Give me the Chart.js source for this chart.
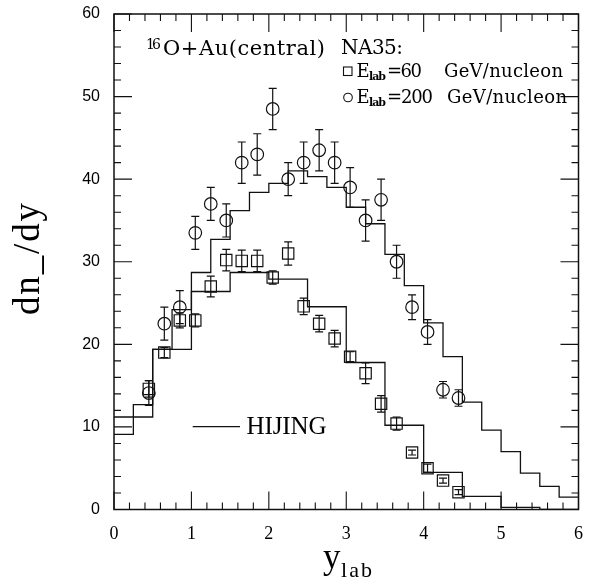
<!DOCTYPE html>
<html><head><meta charset="utf-8">
<script src="https://cdn.jsdelivr.net/npm/chart.js@4"></script>
<style>html,body{margin:0;padding:0;background:#fff;}canvas{display:block;}</style>
</head><body>
<canvas id="c" width="589" height="585"></canvas>
<script>
// ---- data ----
const rapidity = [0.45,0.65,0.85,1.05,1.25,1.45,1.65,1.85,2.05,2.25,2.45,2.65,2.85,3.05,3.25,3.45,3.65,3.85,4.05,4.25,4.45];
const na35_200 = [14.1,22.5,24.5,33.5,37.0,35.0,42.0,43.0,48.5,40.0,42.0,43.5,42.0,39.0,35.0,37.5,30.0,24.5,21.5,14.5,13.5];
const na35_200_err = [1.5,2,2,2,2,2,2.5,2.5,2.5,2,2.5,2.5,2.5,2.4,2.5,2.5,2,1.5,1.5,1,1];
const na35_60 = [14.6,19.0,22.9,22.9,27.0,30.2,30.1,30.1,28.1,31.0,24.6,22.5,20.7,18.5,16.5,12.8,10.4,6.9,5.0,3.5,2.1];
const na35_60_err = [1,0.6,0.9,0.8,1.25,1.3,1.3,1.3,0.8,1.4,1,1,1,0.6,1.25,1,0.8,0.3,0.5,0.3,0.3];

const hijingEdges200 = [0,0.25,0.5,0.75,1,1.25,1.5,1.75,2,2.25,2.5,2.75,3,3.25,3.5,3.75,4,4.25,4.5,4.75,5,5.25,5.5,5.75,6];
const hijing200 = [9.1,12.7,19.4,24.2,28.7,32.7,36.2,38.4,39.5,41.0,40.3,39.0,36.6,34.6,30.9,27.1,22.6,18.5,13.0,9.6,7.0,4.4,2.8,1.5];
const hijingEdges60 = [0,0.5,1,1.5,2,2.5,3,3.5,4,4.5,5,5.5,6];
const hijing60 = [11.2,19.4,26.4,28.7,27.9,24.55,17.8,10.2,4.5,1.6,0.25,0];

const xTickLabels = ['0','1','2','3','4','5','6'];
const yTickLabels = ['0','10','20','30','40','50','60'];

// ---- helpers to build library data ----
function histPoints(edges, vals){
  const pts = vals.map((v,i)=>({x:edges[i], y:v}));
  pts.push({x:edges[edges.length-1], y:vals[vals.length-1]});
  return pts;
}
function scatterPoints(xs, ys){ return xs.map((x,i)=>({x:x, y:ys[i]})); }

const INK = '#111';

function fitText(ctx, text, x, y, font, target){
  ctx.font = font;
  ctx.letterSpacing = '0px';
  const w = ctx.measureText(text).width;
  if (target && text.length > 1){
    ctx.letterSpacing = ((target - w)/(text.length-1)) + 'px';
  }
  ctx.fillText(text, x, y);
  ctx.letterSpacing = '0px';
}

const decor = {
  id:'decor',
  afterDatasetsDraw(chart){
    const {ctx, scales:{x, y}} = chart;
    chart.data.datasets.forEach(ds=>{
      if(!ds.errors) return;
      ctx.save();
      ctx.strokeStyle = INK; ctx.lineWidth = 1.2;
      ds.data.forEach((p,j)=>{
        const e = ds.errors[j];
        const px = x.getPixelForValue(p.x);
        const y1 = y.getPixelForValue(p.y - e), y2 = y.getPixelForValue(p.y + e);
        ctx.beginPath();
        ctx.moveTo(px, y1); ctx.lineTo(px, y2);
        ctx.moveTo(px-4, y1); ctx.lineTo(px+4, y1);
        ctx.moveTo(px-4, y2); ctx.lineTo(px+4, y2);
        ctx.stroke();
      });
      ctx.restore();
    });
  },
  afterDraw(chart){
    const {ctx, chartArea:a, scales:{x, y}} = chart;
    ctx.save();
    ctx.strokeStyle = INK; ctx.fillStyle = '#000';
    // frame
    ctx.lineWidth = 1.5;
    ctx.strokeRect(a.left, a.top, a.right-a.left, a.bottom-a.top);
    // ticks, inward on all four sides
    ctx.lineWidth = 1.1;
    ctx.beginPath();
    for (let i=0;i<=30;i++){
      const v = i*0.2; const px = x.getPixelForValue(v);
      const L = (i%5===0) ? 18 : 7;
      ctx.moveTo(px, a.bottom); ctx.lineTo(px, a.bottom-L);
      ctx.moveTo(px, a.top); ctx.lineTo(px, a.top+L);
    }
    for (let i=0;i<=30;i++){
      const v = i*2; const py = y.getPixelForValue(v);
      const L = (i%5===0) ? 18 : 7;
      ctx.moveTo(a.left, py); ctx.lineTo(a.left+L, py);
      ctx.moveTo(a.right, py); ctx.lineTo(a.right-L, py);
    }
    ctx.stroke();

    // annotation texts
    ctx.textAlign = 'left'; ctx.textBaseline = 'alphabetic';
    fitText(ctx, '16', 146, 48.5, '14px "DejaVu Serif"', 15);
    fitText(ctx, 'O+Au(central)', 163, 55, '21px "DejaVu Serif"', 162);
    fitText(ctx, 'NA35:', 341, 53.5, '20px "DejaVu Serif"', 62);

    // legend symbols
    ctx.lineWidth = 1.1;
    ctx.strokeRect(343.5, 67, 8.5, 8.5);
    ctx.beginPath(); ctx.arc(348, 97.5, 4.3, 0, Math.PI*2); ctx.stroke();

    // legend line 1
    fitText(ctx, 'E', 356.5, 77, '18px "DejaVu Serif"');
    fitText(ctx, 'lab', 369, 80, 'bold 11px "DejaVu Serif"', 17);
    fitText(ctx, '=60', 387, 77, '18px "DejaVu Serif"', 35);
    fitText(ctx, 'GeV/nucleon', 444, 77, '18px "DejaVu Serif"', 119);
    // legend line 2
    fitText(ctx, 'E', 356.5, 103, '18px "DejaVu Serif"');
    fitText(ctx, 'lab', 369, 106, 'bold 11px "DejaVu Serif"', 17);
    fitText(ctx, '=200', 387, 103, '18px "DejaVu Serif"', 46);
    fitText(ctx, 'GeV/nucleon', 447, 103, '18px "DejaVu Serif"', 120);

    // HIJING key
    ctx.lineWidth = 1.3;
    ctx.beginPath(); ctx.moveTo(192.7, 426.7); ctx.lineTo(240, 426.7); ctx.stroke();
    fitText(ctx, 'HIJING', 246.5, 434, '25px "Liberation Serif"', 80);

    // x title
    fitText(ctx, 'y', 323, 568, '35px "Liberation Serif"');
    fitText(ctx, 'lab', 341, 577, '22px "Liberation Serif"', 31);

    // y title
    ctx.save();
    ctx.translate(39, 315);
    ctx.rotate(-Math.PI/2);
    fitText(ctx, 'dn_/dy', 0, 0, '37px "Liberation Serif"', 112);
    ctx.restore();

    ctx.restore();
  }
};

new Chart(document.getElementById('c'), {
  type: 'scatter',
  data: {
    datasets: [
      { type:'line', label:'HIJING 200', data: histPoints(hijingEdges200, hijing200), stepped:true,
        borderColor: INK, borderWidth:1.3, pointRadius:0, fill:false, tension:0 },
      { type:'line', label:'HIJING 60', data: histPoints(hijingEdges60, hijing60), stepped:true,
        borderColor: INK, borderWidth:1.3, pointRadius:0, fill:false, tension:0 },
      { label:'E_lab=200 GeV/nucleon', data: scatterPoints(rapidity, na35_200), errors: na35_200_err,
        pointStyle:'circle', pointRadius:6.3, pointBorderWidth:1.2, borderColor:INK, backgroundColor:'rgba(0,0,0,0)', showLine:false },
      { label:'E_lab=60 GeV/nucleon', data: scatterPoints(rapidity, na35_60), errors: na35_60_err,
        pointStyle:'rect', pointRadius:8, pointBorderWidth:1.2, borderColor:INK, backgroundColor:'rgba(0,0,0,0)', showLine:false }
    ]
  },
  options: {
    responsive:false, animation:false, devicePixelRatio:1,
    layout:{padding:{left:0, right:6, top:7, bottom:0}},
    plugins:{legend:{display:false}, tooltip:{enabled:false}},
    events:[],
    scales:{
      x:{type:'linear', min:0, max:6,
         ticks:{stepSize:1, color:'#000', padding:6, maxRotation:0, font:{family:'Liberation Serif', size:18},
                callback:(v,i)=> xTickLabels[i]},
         grid:{display:false}, border:{display:false},
         afterFit(s){ s.height = 75.5; }},
      y:{type:'linear', min:0, max:60,
         ticks:{stepSize:10, color:'#000', padding:6, font:{family:'Liberation Sans', size:16, lineHeight:1},
                callback:(v,i)=> yTickLabels[i]},
         grid:{display:false}, border:{display:false},
         afterFit(s){ s.width = 114; }}
    }
  },
  plugins:[decor]
});
</script>
</body></html>
